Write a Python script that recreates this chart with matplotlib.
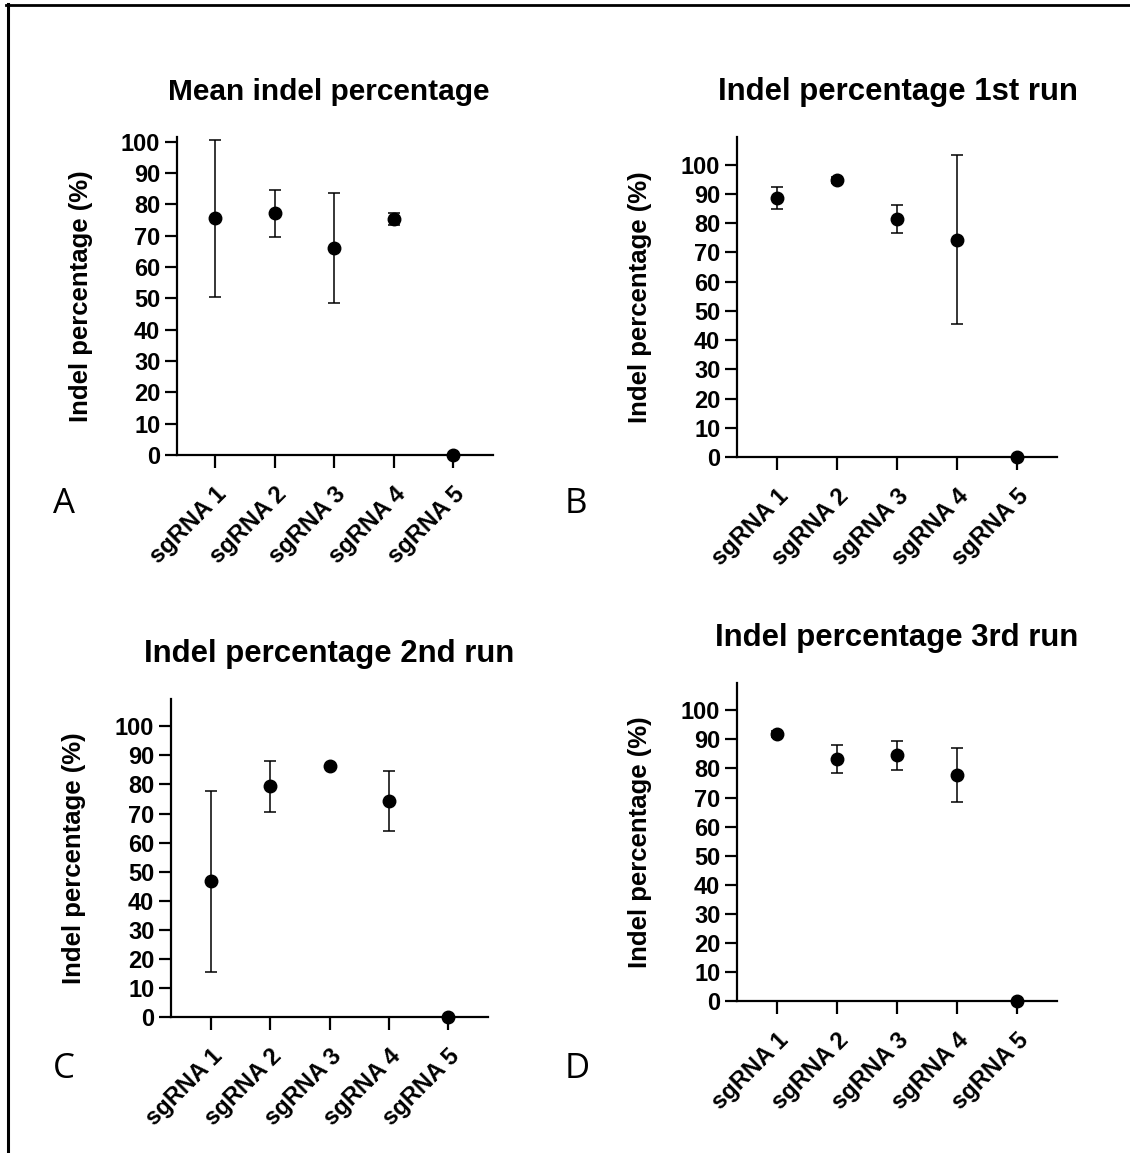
import numpy as np
import matplotlib.pyplot as plt
from matplotlib.lines import Line2D

plt.rcParams['font.family'] = ['Liberation Sans', 'DejaVu Sans']
plt.rcParams['font.weight'] = 'bold'

# sgRNA labels
guides = ['sgRNA 1', 'sgRNA 2', 'sgRNA 3', 'sgRNA 4', 'sgRNA 5']

# mean indel % and SD per panel
mean_all = [75.5, 77.1, 66.1, 75.3, 0.0]
sd_all = [25.1, 7.6, 17.5, 2.0, 0.0]

run1_mean = [88.6, 94.9, 81.4, 74.4, 0.0]
run1_sd = [3.7, 1.0, 4.9, 29.0, 0.0]

run2_mean = [46.7, 79.3, 86.2, 74.4, 0.0]
run2_sd = [31.2, 8.7, 0.0, 10.3, 0.0]

run3_mean = [91.8, 83.3, 84.5, 77.7, 0.0]
run3_sd = [1.0, 4.8, 5.0, 9.3, 0.0]

titles = ['Mean indel percentage', 'Indel percentage 1st run',
          'Indel percentage 2nd run', 'Indel percentage 3rd run']
letters = ['A', 'B', 'C', 'D']

W, H = 1130, 1153
fig = plt.figure(figsize=(W / 100, H / 100), dpi=100)

# axes boxes in pixels: left, top, right, bottom (image coords)
boxes = [(177, 137, 493, 455), (737, 137, 1057, 457),
         (171, 699, 488, 1017), (737, 683, 1057, 1001)]
ytops = [101.5, 109.5, 109.4, 109.4]
xlims = [(-0.64, 4.67), (-0.66, 4.67), (-0.68, 4.68), (-0.67, 4.67)]
title_pos = [(329, 100), (898, 100), (329, 662), (897, 646)]
title_size = [21.5, 22.4, 22.4, 22.4]
letter_pos = [(53, 513), (565, 513), (53, 1078), (565, 1078)]

data = [(mean_all, sd_all), (run1_mean, run1_sd),
        (run2_mean, run2_sd), (run3_mean, run3_sd)]

x = np.arange(len(guides))
for i, (m, s) in enumerate(data):
    l, t, r, b = boxes[i]
    ax = fig.add_axes([l / W, 1 - b / H, (r - l) / W, (b - t) / H])
    ax.errorbar(x, m, yerr=s, fmt='o', color='black', ms=9,
                capsize=4.5, elinewidth=1.1, capthick=1.1, clip_on=False,
                zorder=3)
    ax.set_ylim(0, ytops[i])
    ax.set_xlim(*xlims[i])
    ax.set_yticks(np.arange(0, 101, 10))
    ax.set_xticks(x)
    ax.set_xticklabels(guides, rotation=45, ha='right', va='top',
                       rotation_mode='anchor')
    for side in ['top', 'right']:
        ax.spines[side].set_visible(False)
    for side in ['left', 'bottom']:
        ax.spines[side].set_linewidth(1.6)
    ax.tick_params(axis='both', length=9, width=1.6, labelsize=17, pad=3)
    ax.tick_params(axis='x', pad=11)
    ax.set_ylabel('Indel percentage (%)', fontsize=18.5, fontweight='bold')
    ax.yaxis.set_label_coords(-0.267, 0.5)

    tx, ty = title_pos[i]
    fig.text(tx / W, 1 - ty / H, titles[i], ha='center', va='baseline',
             fontsize=title_size[i], fontweight='bold')
    lx, ly = letter_pos[i]
    fig.text(lx / W, 1 - ly / H, letters[i], ha='left', va='baseline',
             fontsize=25, fontweight='normal', family='Open Sans')

# frame lines on the top and left edges
fig.add_artist(Line2D([6 / W, 1], [1 - 4.7 / H, 1 - 4.7 / H],
                      transform=fig.transFigure, color='black', lw=2))
fig.add_artist(Line2D([7.7 / W, 7.7 / W], [0, 1 - 3.5 / H],
                      transform=fig.transFigure, color='black', lw=2.2))

fig.savefig('out.png', dpi=100)
